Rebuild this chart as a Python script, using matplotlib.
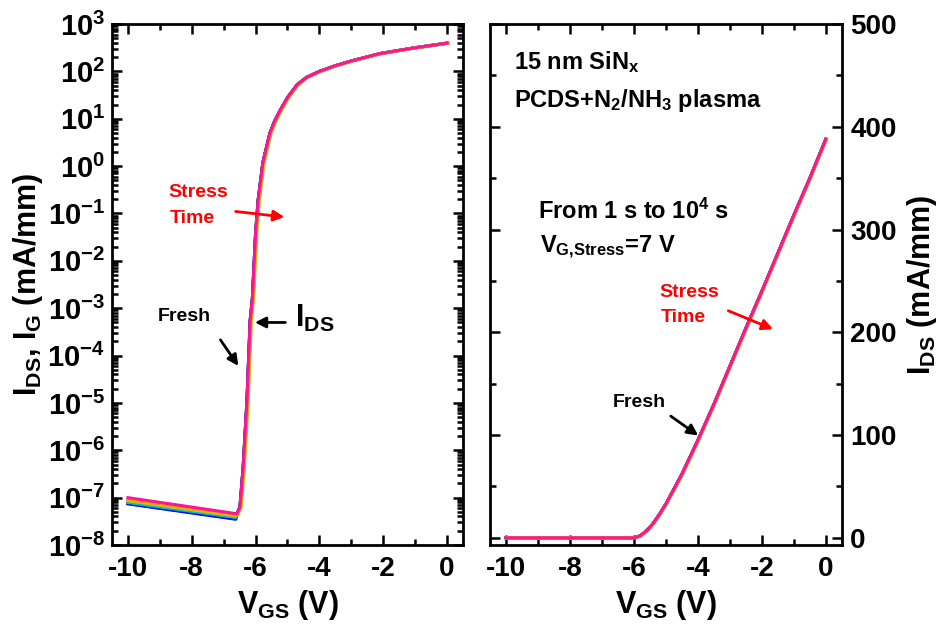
import numpy as np
import matplotlib
matplotlib.use("Agg")
import matplotlib.pyplot as plt
from matplotlib.ticker import MultipleLocator, LogLocator, FuncFormatter, NullFormatter

plt.rcParams['font.family'] = ['Liberation Sans', 'DejaVu Sans']
plt.rcParams['font.weight'] = 'bold'
plt.rcParams['axes.labelweight'] = 'bold'
plt.rcParams['axes.unicode_minus'] = False
plt.rcParams['mathtext.fontset'] = 'custom'
plt.rcParams['mathtext.rm'] = 'Liberation Sans:bold'
plt.rcParams['mathtext.it'] = 'Liberation Sans:bold'
plt.rcParams['mathtext.bf'] = 'Liberation Sans:bold'
plt.rcParams['mathtext.default'] = 'rm'

# transfer curve (log scale), shared on-state part
vgs_on = [-6.58, -6.49, -6.39, -6.27, -6.17, -6.1, -6.0, -5.92, -5.77, -5.55,
          -5.4, -5.23, -5.0, -4.7, -4.4, -4.0, -3.5, -3.0, -2.1, -1.0, 0.0]
ids_on = [4.6e-8, 6.3e-8, 4.3e-7, 1.1e-5, 5.5e-4, 1.6e-3, 3.8e-2, 1.9e-1, 1.2, 5.0,
          9.0, 15.0, 28.0, 52.0, 75.0, 100.0, 132.0, 166.0, 238.0, 316.0, 395.0]

# stress curves: colour, off-current at -10 V and at -6.6 V, small Vth shift
curve_colors = ['black', 'red', 'blue', '#008000', '#00c0c0', '#c8c800', 'orange', '#ff1493']
ioff_start = [7.6e-8, 7.8e-8, 7.4e-8, 8.2e-8, 7.9e-8, 8.6e-8, 9.0e-8, 1.0e-7]
ioff_end = [3.6e-8, 3.7e-8, 3.5e-8, 3.9e-8, 3.8e-8, 4.1e-8, 4.3e-8, 4.6e-8]
vth_shift = [0.0, 0.01, 0.0, 0.02, 0.01, 0.04, 0.02, 0.0]

# linear output (right panel)
vgs_lin = [-10.0, -6.0, -5.8, -5.6, -5.4, -5.2, -5.0, -4.5, -4.0, -3.5, -3.0,
           -2.5, -2.0, -1.5, -1.0, -0.5, 0.0]
ids_lin = [0.0, 0.0, 2.0, 7.0, 14.0, 23.0, 33.0, 62.0, 95.0, 130.0, 167.0,
           204.0, 240.0, 277.0, 314.0, 350.0, 388.0]

fig = plt.figure(figsize=(9.48, 6.33), dpi=100)
ax1 = fig.add_axes([0.1181, 0.139, 0.3703, 0.823])
ax2 = fig.add_axes([0.517, 0.139, 0.371, 0.823])

for c, a, b, s in zip(curve_colors, ioff_start, ioff_end, vth_shift):
    v = [-10.0, -6.62] + [x + s for x in vgs_on]
    i = [a, b] + ids_on
    ax1.plot(v, i, color=c, lw=2.2)
    ax2.plot([x + s * 0.5 for x in vgs_lin], ids_lin, color=c, lw=2.2)

# --- left panel
ax1.set_yscale('log')
ax1.set_xlim(-10.5, 0.5)
ax1.set_ylim(1e-8, 1e3)
ax1.xaxis.set_major_locator(MultipleLocator(2))
ax1.xaxis.set_minor_locator(MultipleLocator(1))
ax1.yaxis.set_major_locator(LogLocator(base=10, numticks=20))
ax1.yaxis.set_minor_locator(LogLocator(base=10, subs=np.arange(2, 10), numticks=20))
ax1.yaxis.set_minor_formatter(NullFormatter())
ax1.yaxis.set_major_formatter(FuncFormatter(lambda y, p: r'$10^{%d}$' % round(np.log10(y))))
ax1.set_xlabel(r'V$_{GS}$ (V)', fontsize=22, labelpad=4)
ax1.set_ylabel(r'I$_{DS}$, I$_{G}$ (mA/mm)', fontsize=22, labelpad=2)

ax1.text(-8.74, 0.28, 'Stress', color='red', fontsize=14, va='center')
ax1.text(-8.68, 0.08, 'Time', color='red', fontsize=14, va='center')
ax1.annotate('', xy=(-5.01, 0.083), xytext=(-6.71, 0.112),
             arrowprops=dict(arrowstyle='-|>', color='red', lw=2, mutation_scale=16))
ax1.text(-9.06, 6.8e-4, 'Fresh', color='black', fontsize=14, va='center')
ax1.annotate('', xy=(-6.49, 5.4e-5), xytext=(-7.15, 2.4e-4),
             arrowprops=dict(arrowstyle='-|>', color='black', lw=2, mutation_scale=16))
ax1.text(-4.76, 6e-4, r'I$_{DS}$', color='black', fontsize=22, va='center')
ax1.annotate('', xy=(-6.11, 5e-4), xytext=(-4.98, 5e-4),
             arrowprops=dict(arrowstyle='-|>', color='black', lw=2, mutation_scale=16))

# --- right panel
ax2.set_xlim(-10.5, 0.5)
ax2.set_ylim(-7, 500)
ax2.xaxis.set_major_locator(MultipleLocator(2))
ax2.xaxis.set_minor_locator(MultipleLocator(1))
ax2.yaxis.set_major_locator(MultipleLocator(100))
ax2.yaxis.set_minor_locator(MultipleLocator(50))
ax2.yaxis.tick_right()
ax2.yaxis.set_label_position('right')
ax2.set_xlabel(r'V$_{GS}$ (V)', fontsize=22, labelpad=4)
ax2.set_ylabel(r'I$_{DS}$ (mA/mm)', fontsize=22, labelpad=6)

ax2.text(-9.75, 463, r'15 nm SiN$_x$', fontsize=17, va='center')
ax2.text(-9.75, 426, r'PCDS+N$_2$/NH$_3$ plasma', fontsize=17, va='center')
ax2.text(-8.99, 318, r'From 1 s to 10$^4$ s', fontsize=17, va='center')
ax2.text(-8.93, 283, r'V$_{G{,}Stress}$=7 V', fontsize=17, va='center')
ax2.text(-5.2, 239, 'Stress', color='red', fontsize=14, va='center')
ax2.text(-5.17, 214, 'Time', color='red', fontsize=14, va='center')
ax2.annotate('', xy=(-1.57, 202), xytext=(-3.13, 222),
             arrowprops=dict(arrowstyle='-|>', color='red', lw=2, mutation_scale=16))
ax2.text(-6.68, 132, 'Fresh', color='black', fontsize=14, va='center')
ax2.annotate('', xy=(-3.92, 98), xytext=(-4.92, 120),
             arrowprops=dict(arrowstyle='-|>', color='black', lw=2, mutation_scale=16))

for ax in (ax1, ax2):
    for sp in ax.spines.values():
        sp.set_linewidth(2)
    ax.tick_params(which='both', direction='in', top=True, bottom=True,
                   left=True, right=True, width=1.8, labelsize=20)
    ax.tick_params(which='major', length=7)
    ax.tick_params(which='minor', length=4)
    ax.tick_params(axis='x', pad=8)
ax1.tick_params(axis='y', labelsize=21, pad=5)
ax2.tick_params(axis='y', labelleft=False, labelright=True, pad=6)

fig.savefig('out.png', dpi=100)
